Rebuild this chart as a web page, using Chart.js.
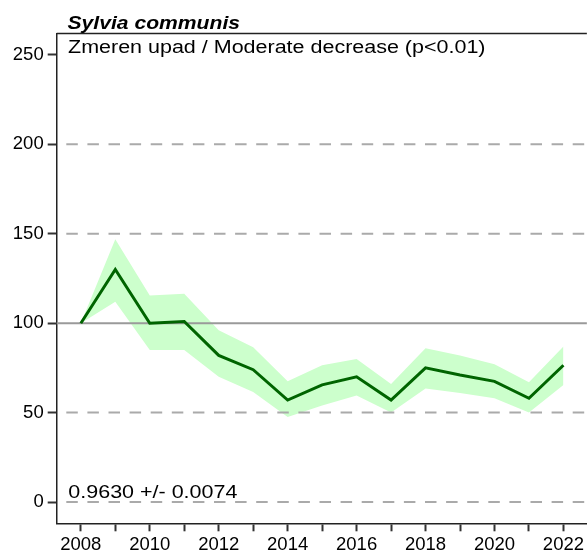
<!DOCTYPE html>
<html>
<head>
<meta charset="utf-8">
<script src="https://cdn.jsdelivr.net/npm/chart.js@4.4.1/dist/chart.umd.min.js"></script>
<style>
    html, body { margin: 0; padding: 0; background: #fff; overflow: hidden; }
    #wrap { width: 587px; height: 553px; }
</style>
</head>
<body>
<div id="wrap"><canvas id="trendChart" width="587" height="553"></canvas></div>
<script>
// 数据
const years = [2008, 2009, 2010, 2011, 2012, 2013, 2014, 2015, 2016, 2017, 2018, 2019, 2020, 2021, 2022];
const indexValues = [100, 130, 100, 101, 82, 74, 57, 65.5, 70, 57, 75, 71, 67.5, 58, 76.5];
const upperCI = [100, 147, 115.5, 116.5, 96, 86.5, 67.5, 76.5, 80, 66, 86, 82, 77, 67, 87];
const lowerCI = [100, 112, 85, 85, 70, 61.5, 47.5, 54, 59.5, 50, 63.5, 61, 58, 50, 65.5];
const yTicks = [0, 50, 100, 150, 200, 250];
const dashedLevels = [0, 50, 150, 200];
const baseLevel = 100;
const speciesName = 'Sylvia communis';
const trendLabel = 'Zmeren upad / Moderate decrease (p<0.01)';
const slopeLabel = '0.9630 +/- 0.0074';

const FONT = "'Liberation Sans', Arial, sans-serif";

function toPoints(values) {
    return years.map((y, i) => ({ x: y, y: values[i] }));
}

// 横向拉伸的文字
function drawText(ctx, text, x, y, font, sx) {
    ctx.save();
    ctx.translate(x, y);
    ctx.scale(sx, 1);
    ctx.font = font;
    ctx.fillStyle = '#000';
    ctx.textBaseline = 'alphabetic';
    ctx.textAlign = 'left';
    ctx.fillText(text, 0, 0);
    ctx.restore();
}

const decor = {
    id: 'decor',
    beforeDatasetDraw(chart, args) {
        if (args.index !== 0) return;
        const { ctx, chartArea: a, scales: { y } } = chart;
        ctx.save();
        ctx.lineWidth = 2;
        ctx.strokeStyle = '#aaaaaa';
        ctx.setLineDash([11.5, 9.6]);
        ctx.lineDashOffset = 11.5;
        dashedLevels.forEach(v => {
            const py = y.getPixelForValue(v);
            ctx.beginPath();
            ctx.moveTo(a.left, py);
            ctx.lineTo(a.right, py);
            ctx.stroke();
        });
        ctx.setLineDash([]);
        ctx.strokeStyle = '#9a9a9a';
        const pb = y.getPixelForValue(baseLevel);
        ctx.beginPath();
        ctx.moveTo(a.left, pb);
        ctx.lineTo(a.right, pb);
        ctx.stroke();
        ctx.restore();
    },
    afterDraw(chart) {
        const { ctx, chartArea: a } = chart;
        ctx.save();
        ctx.strokeStyle = '#222';
        ctx.lineWidth = 1.5;
        ctx.beginPath();
        ctx.moveTo(a.left, a.top);
        ctx.lineTo(a.right, a.top);
        ctx.stroke();
        ctx.restore();
        drawText(ctx, speciesName, 67.5, 28.5, `italic bold 18.7px ${FONT}`, 1.13);
        drawText(ctx, trendLabel, 68, 53.3, `18.7px ${FONT}`, 1.15);
        drawText(ctx, slopeLabel, 68.3, 497.7, `18.7px ${FONT}`, 1.15);
    }
};

new Chart(document.getElementById('trendChart'), {
    type: 'line',
    data: {
        datasets: [{
            label: 'index',
            data: toPoints(indexValues),
            borderColor: 'rgb(0,100,0)',
            borderWidth: 3,
            pointRadius: 0,
            fill: false,
            tension: 0
        }, {
            label: 'upper',
            data: toPoints(upperCI),
            borderWidth: 0,
            borderColor: 'rgba(0,0,0,0)',
            backgroundColor: '#ccffcc',
            pointRadius: 0,
            fill: '+1',
            tension: 0
        }, {
            label: 'lower',
            data: toPoints(lowerCI),
            borderWidth: 0,
            borderColor: 'rgba(0,0,0,0)',
            pointRadius: 0,
            fill: false,
            tension: 0
        }]
    },
    options: {
        responsive: false,
        animation: false,
        devicePixelRatio: 1,
        layout: { padding: { top: 33.5, left: 0, right: 0, bottom: 0 } },
        plugins: {
            legend: { display: false },
            tooltip: { enabled: false },
            title: { display: false }
        },
        scales: {
            x: {
                type: 'linear',
                min: 2007.3,
                max: 2022.68,
                afterBuildTicks: s => { s.ticks = years.map(v => ({ value: v })); },
                afterFit: s => { s.height = 553 - 523.3; },
                ticks: {
                    autoSkip: false,
                    maxRotation: 0,
                    padding: 3,
                    color: '#000',
                    font: { family: FONT, size: 18.5 },
                    callback: v => (v % 2 === 0 ? String(v) : '')
                },
                grid: {
                    drawOnChartArea: false,
                    drawTicks: true,
                    tickLength: 8,
                    tickColor: '#333',
                    tickWidth: 2
                },
                border: { color: '#222', width: 1.5 }
            },
            y: {
                type: 'linear',
                min: -11.9,
                max: 262,
                afterBuildTicks: s => { s.ticks = yTicks.map(v => ({ value: v })); },
                afterFit: s => { s.width = 56.7; },
                ticks: {
                    padding: 4,
                    color: '#000',
                    font: { family: FONT, size: 18.5 }
                },
                grid: {
                    drawOnChartArea: false,
                    drawTicks: true,
                    tickLength: 9,
                    tickColor: '#333',
                    tickWidth: 2
                },
                border: { color: '#222', width: 1.5 }
            }
        }
    },
    plugins: [decor]
});
</script>
</body>
</html>
